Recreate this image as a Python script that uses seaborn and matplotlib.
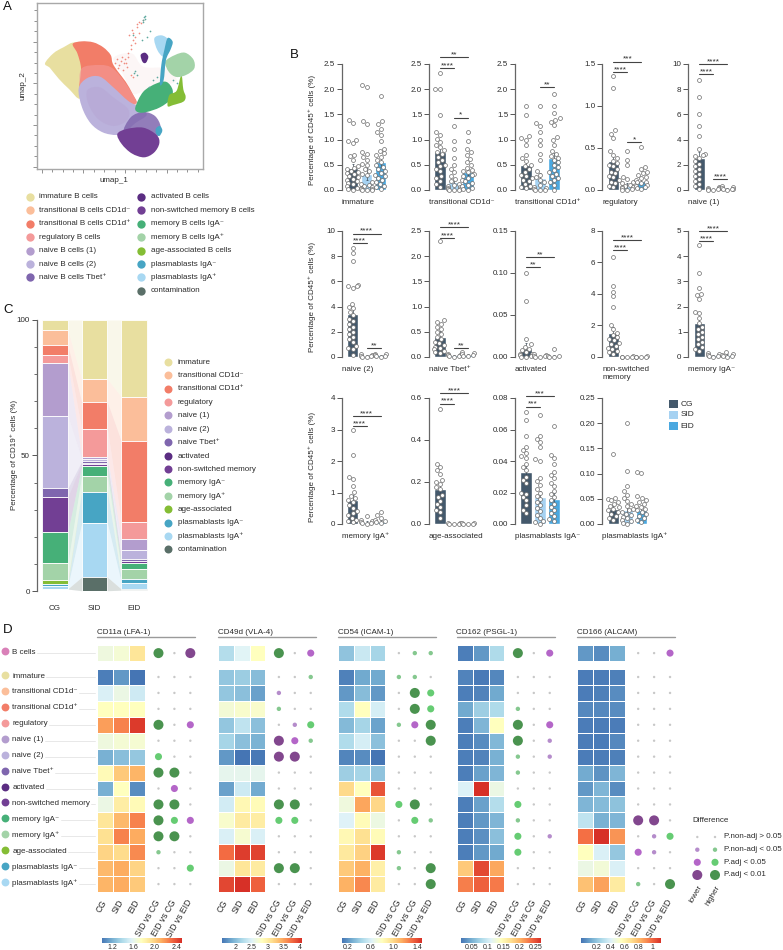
import numpy as np
import pandas as pd
import matplotlib
matplotlib.use("Agg")
import matplotlib.pyplot as plt
from matplotlib.path import Path
from matplotlib.patches import PathPatch, Rectangle
from matplotlib.colors import LinearSegmentedColormap
from matplotlib.ticker import MultipleLocator
from matplotlib.transforms import ScaledTranslation
import seaborn as sns

sns.set_theme(style="white")
plt.rcParams['font.family'] = ['Liberation Sans', 'DejaVu Sans']
plt.rcParams['text.color'] = '#2b2b2b'
plt.rcParams['axes.labelcolor'] = '#2b2b2b'
plt.rcParams['xtick.color'] = '#2b2b2b'
plt.rcParams['ytick.color'] = '#2b2b2b'

W, H = 783, 950
FS = 5.8

# ---------------- colours / names -------------------------------------------
subset_colors = ["#E8DFA0", "#FBBE9A", "#F27D68", "#F49A9A", "#B39DCE", "#BBB2DC", "#7F66AE",
                 "#5B2D82", "#723F94", "#46B078", "#A3D3A8", "#84BD35", "#47A5C4", "#A8D8F2", "#5A6F68"]
legend_a_left = ["immature B cells", "transitional B cells CD1d⁻", "transitional B cells CD1d⁺",
                 "regulatory B cells", "naive B cells (1)", "naive B cells (2)", "naive B cells Tbet⁺"]
legend_a_right = ["activated B cells", "non-switched memory B cells", "memory B cells IgA⁻",
                  "memory B cells IgA⁺", "age-associated B cells", "plasmablasts IgA⁻",
                  "plasmablasts IgA⁺", "contamination"]
subset_names = ["immature", "transitional CD1d⁻", "transitional CD1d⁺", "regulatory", "naive (1)", "naive (2)",
                "naive Tbet⁺", "activated", "non-switched memory", "memory IgA⁻", "memory IgA⁺",
                "age-associated", "plasmablasts IgA⁻", "plasmablasts IgA⁺", "contamination"]
groups = ["CG", "SID", "EID"]
group_colors = ["#44596C", "#A6D2F2", "#4AA8E0"]

# ---------------- panel A: UMAP region outlines (picture units) -------------
reg_immature = [(135,190),(160,160),(190,142),(225,128),(262,160),(268,200),(262,250),(240,296),(208,268),(176,236),(150,204)]
reg_trans_pos = [(218,132),(245,124),(280,127),(310,142),(332,165),(338,190),(354,215),(377,245),(397,280),(410,308),(385,312),(350,285),(320,255),(285,245),(250,250),(238,262),(243,205),(232,160)]
reg_regulatory = [(245,205),(300,195),(338,205),(377,250),(410,308),(385,312),(340,275),(300,250),(255,250),(240,258)]
reg_naive2 = [(236,265),(262,234),(300,230),(340,262),(385,303),(420,322),(440,345),(405,370),(378,395),(350,405),(308,397),(272,370),(246,322)]
reg_naive1 = [(262,270),(300,262),(340,292),(385,328),(380,362),(340,378),(295,358),(265,312)]
reg_tbet = [(392,352),(430,336),(465,348),(482,380),(472,408),(430,405),(372,398)]
reg_nonsw = [(352,402),(380,387),(430,383),(470,405),(478,430),(462,458),(432,472),(395,460),(365,432)]
reg_pb_neg_blob = [(468,385),(480,378),(487,392),(478,408),(468,400)]
reg_mem_neg = [(406,322),(430,275),(470,250),(500,246),(518,270),(512,298),(480,322),(440,336),(415,337)]
reg_age = [(508,285),(530,272),(544,225),(550,268),(557,290),(550,305),(520,315),(503,318)]
reg_mem_pos = [(496,185),(525,165),(555,158),(580,178),(583,205),(560,224),(530,231),(507,216)]
reg_pb_pos = [(463,115),(485,106),(505,120),(503,150),(490,170),(472,150)]
reg_pb_neg_stem = [(503,114),(518,125),(512,148),(498,180),(491,240),(480,254),(484,195),(493,150)]
reg_activated = [(422,165),(435,158),(445,170),(438,188),(428,186)]
reg_haze = [(340,175),(395,160),(430,200),(500,205),(530,240),(500,255),(430,275),(395,280),(370,225)]
spark_pink_x = [350,362,375,385,392,400,380,370,392,400,396,410,418,428,355,365,378,388,398,405,412,345,358,372,384,394,404,416,424]
spark_pink_y = [178,183,178,160,135,120,200,210,225,232,90,72,65,60,205,170,190,105,98,112,80,190,196,188,172,148,128,100,70]
spark_teal_x = [432,436,430,450,425,440,402,412,428,434,398,404,470,458,448,520,530]
spark_teal_y = [52,58,65,92,120,110,218,225,60,48,105,212,230,240,260,240,250]

# ---------------- panel B: per-subset data ----------------------------------
imm_cg = [1.38,1.32,1.0,.97,.93,.7,.67,.6,.47,.44,.42,.38,.36,.33,.31,.28,.25,.22,.2,.17,.14,.12,.08,.04,.02,.0]
imm_sid = [2.09,2.05,1.36,1.3,.75,.72,.65,.6,.52,.5,.42,.38,.32,.3,.15,.12,.1,.08,.06,.04,.02,.01,0,0,0]
imm_eid = [1.86,1.36,1.3,1.22,1.15,1.1,.98,.82,.78,.73,.7,.66,.6,.55,.5,.46,.42,.38,.34,.3,.27,.24,.2,.16,.12,.08,.05,.02]
tneg_cg = [2.33,2.01,2.0,1.49,1.15,1.1,1.02,.95,.9,.85,.8,.76,.72,.66,.6,.55,.5,.47,.42,.37,.28,.24,.18,.12,.06]
tneg_sid = [1.27,.97,.82,.63,.5,.42,.35,.28,.22,.17,.12,.1,.07,.05,.04,.02,.01,0,0,0]
tneg_eid = [1.15,.97,.82,.76,.7,.62,.55,.5,.44,.4,.38,.35,.32,.3,.27,.24,.2,.17,.14,.1,.07,.04,.02,0]
tpos_cg = [1.66,1.49,1.07,1.03,1.0,.9,.7,.63,.58,.5,.47,.42,.36,.3,.27,.24,.2,.17,.12,.08,.05,.03]
tpos_sid = [1.67,1.33,1.27,1.15,1.0,.9,.72,.6,.37,.3,.25,.2,.15,.1,.06,.04,.02,0,0,0]
tpos_eid = [1.9,1.67,1.53,1.42,1.38,1.35,1.28,1.05,.99,.9,.78,.72,.68,.64,.6,.55,.5,.45,.4,.36,.32,.28,.24,.2,.15,.1,.0]
reg_cg = [1.36,1.21,.71,.67,.62,.46,.42,.38,.35,.32,.3,.28,.25,.22,.2,.17,.15,.12,.1,.08,.05,.03]
reg_sid = [.47,.36,.3,.16,.13,.1,.08,.06,.05,.04,.03,.02,.01,0,0]
reg_eid = [.51,.27,.25,.22,.2,.18,.16,.14,.12,.1,.09,.08,.06,.05,.04,.02,.01]
n1_cg = [8.75,7.35,6.05,5.05,4.25,3.25,2.85,2.8,2.7,2.55,2.3,2.1,1.9,1.7,1.5,1.3,1.1,.9,.7,.5,.3,.1]
n1_sid = [.25,.18,.12,.08,.05,.03,.01]
n1_eid = [.3,.2,.15,.1,.08,.05,.02]
n2_cg = [8.65,8.25,7.65,5.7,5.65,5.6,5.45,4.2,3.95,3.85,3.6,3.3,3.05,2.85,2.6,2.4,2.2,2.0,1.8,1.6,1.4,1.2,.85,.75,.6,.15]
n2_sid = [.2,.15,.1,.05,.03,.01]
n2_eid = [.25,.2,.15,.1,.05,.02]
tb_cg = [2.3,.73,.7,.66,.6,.55,.5,.45,.4,.35,.3,.27,.24,.2,.18,.15,.12,.1,.08]
tb_sid = [.06,.04,.03,.02,.01,0]
tb_eid = [.09,.07,.05,.03,.02,.01]
ac_cg = [.1,.067,.022,.015,.012,.01,.008,.006,.004,.003,.002,.001,.0005,0]
ac_sid = [.003,.002,.001,.001,0,0]
ac_eid = [.009,.001,.001,0,0]
ns_cg = [6.35,4.5,4.15,3.85,3.2,2.05,1.8,1.55,1.4,1.25,1.15,1.05,.9,.8,.7,.6,.5,.4,.3,.2]
ns_sid = [.05,.03,.02,.01,0]
ns_eid = [.05,.03,.02,.01,0]
man_cg = [4.45,3.35,2.75,2.5,2.45,2.3,1.8,1.75,1.55,1.35,1.2,1.1,1.0,.9,.8,.7,.6,.5,.4,.3,.25]
man_sid = [.15,.1,.08,.05,.03,.01]
man_eid = [.18,.12,.08,.05,.03,.01]
map_cg = [2.98,2.2,1.5,1.42,1.22,1.03,.9,.82,.76,.7,.6,.5,.42,.35,.28,.2,.14,.1,.05]
map_sid = [.25,.12,.08,.05,.03,.02,.01]
map_eid = [.37,.28,.2,.12,.08,.05,.02]
age_cg = [.55,.285,.27,.255,.24,.21,.2,.19,.175,.165,.14,.13,.11,.095,.08,.065,.055,.03]
age_sid = [.006,.004,.002,.001,0]
age_eid = [.006,.004,.002,.001,0]
pbn_cg = [.071,.066,.056,.049,.047,.045,.043,.042,.038,.036,.034,.03,.028,.026,.02,.019,.017,.015,.012,.009,.007]
pbn_sid = [.069,.056,.054,.052,.049,.041,.04,.029,.027,.025,.022,.02,.018,.016,.014,.012,.01,.008,.006,.004,.002,.001,0]
pbn_eid = [.062,.044,.042,.038,.033,.031,.029,.026,.024,.021,.019,.017,.015,.013,.011,.009,.007,.005,.003,.002]
pbp_cg = [.138,.052,.05,.047,.044,.04,.036,.033,.03,.027,.024,.02,.016,.012,.008]
pbp_sid = [.2,.105,.075,.065,.058,.052,.046,.04,.035,.03,.027,.024,.02,.017,.014,.011,.008,.005,.002,0]
pbp_eid = [.104,.102,.056,.052,.048,.044,.04,.036,.033,.03,.027,.024,.02,.016,.012,.008,.004]

bar_means = {
    "immature": [.44,.32,.55], "tneg": [.75,.15,.35], "tpos": [.5,.23,.63], "reg": [.34,.05,.11], "n1": [2.55,.08,.1],
    "n2": [3.4,.1,.13], "tb": [.4,.03,.04], "ac": [.009,.001,.001], "ns": [1.55,.02,.02], "man": [1.35,.07,.08],
    "map": [.75,.05,.07], "age": [.165,.002,.002], "pbn": [.033,.017,.016], "pbp": [.03,.028,.028]}

# (key, label, points, y ticks, tick labels, brackets: (from, to, y, stars))
panels = [
 ("immature","immature",[imm_cg,imm_sid,imm_eid],[0,.5,1,1.5,2,2.5],["0.0","0.5","1.0","1.5","2.0","2.5"],[]),
 ("tneg","transitional CD1d⁻",[tneg_cg,tneg_sid,tneg_eid],[0,.5,1,1.5,2,2.5],["0.0","0.5","1.0","1.5","2.0","2.5"],[(0,2,2.63,"**"),(0,1,2.42,"****"),(1,2,1.435,"*")]),
 ("tpos","transitional CD1d⁺",[tpos_cg,tpos_sid,tpos_eid],[0,.5,1,1.5,2,2.5],["0.0","0.5","1.0","1.5","2.0","2.5"],[(1,2,2.04,"**")]),
 ("reg","regulatory",[reg_cg,reg_sid,reg_eid],[0,.5,1,1.5],["0.0","0.5","1.0","1.5"],[(0,2,1.528,"***"),(0,1,1.405,"****"),(1,2,.567,"*")]),
 ("n1","naive (1)",[n1_cg,n1_sid,n1_eid],[0,2,4,6,8,10],["0","2","4","6","8","10"],[(0,2,10.0,"****"),(0,1,9.18,"****"),(1,2,.87,"****")]),
 ("n2","naive (2)",[n2_cg,n2_sid,n2_eid],[0,2,4,6,8,10],["0","2","4","6","8","10"],[(0,2,9.8,"****"),(0,1,9.02,"****"),(1,2,.69,"**")]),
 ("tb","naive Tbet⁺",[tb_cg,tb_sid,tb_eid],[0,.5,1,1.5,2,2.5],["0.0","0.5","1.0","1.5","2.0","2.5"],[(0,2,2.57,"****"),(0,1,2.36,"****"),(1,2,.17,"**")]),
 ("ac","activated",[ac_cg,ac_sid,ac_eid],[0,.05,.1,.15],["0.00","0.05","0.10","0.15"],[(0,2,.119,"**"),(0,1,.107,"**")]),
 ("ns","non-switched\nmemory",[ns_cg,ns_sid,ns_eid],[0,2,4,6,8],["0","2","4","6","8"],[(0,2,7.41,"****"),(0,1,6.77,"****")]),
 ("man","memory IgA⁻",[man_cg,man_sid,man_eid],[0,1,2,3,4,5],["0","1","2","3","4","5"],[(0,2,5.0,"****"),(0,1,4.6,"****")]),
 ("map","memory IgA⁺",[map_cg,map_sid,map_eid],[0,1,2,3,4],["0","1","2","3","4"],[(0,2,3.43,"****"),(0,1,3.1,"****")]),
 ("age","age-associated",[age_cg,age_sid,age_eid],[0,.2,.4,.6],["0.0","0.2","0.4","0.6"],[(0,2,.622,"****"),(0,1,.573,"****")]),
 ("pbn","plasmablasts IgA⁻",[pbn_cg,pbn_sid,pbn_eid],[0,.02,.04,.06,.08],["0.00","0.02","0.04","0.06","0.08"],[(0,2,.081,"***"),(0,1,.0745,"***")]),
 ("pbp","plasmablasts IgA⁺",[pbp_cg,pbp_sid,pbp_eid],[0,.05,.1,.15,.2,.25],["0.00","0.05","0.10","0.15","0.20","0.25"],[]),
]

# ---------------- panel C: stacked composition (%) ---------------------------
comp_cg = [3.7,5.5,3.6,2.9,19.6,26.8,3.2,.1,12.8,11.6,6.3,1.5,.7,.9,0.1]
comp_sid = [21.8,8.5,9.9,10.2,.9,.9,.7,.3,.8,3.4,5.9,.0,11.7,19.9,5.0]
comp_eid = [28.3,16.4,29.9,6.1,4.3,3.1,.7,.3,.7,2.2,3.4,.1,1.4,2.4,.4]

# ---------------- panel D: heatmap values and dot levels ---------------------
row_names = ["B cells"] + subset_names[:-1]
row_colors = ["#D980B8"] + subset_colors[:-1]
heat_columns = ["CG", "SID", "EID"]
cmp_columns = ["SID vs CG", "EID vs CG", "SID vs EID"]
titles = ["CD11a (LFA-1)", "CD49d (VLA-4)", "CD54 (ICAM-1)", "CD162 (PSGL-1)", "CD166 (ALCAM)"]
heat_lfa = [[1.65,1.68,1.90],[1.03,1.12,1.00],[1.54,1.63,1.50],[1.75,1.75,1.75],[2.17,2.25,2.47],[1.65,1.68,1.69],[1.21,1.26,1.30],[1.78,2.02,2.10],[1.20,1.75,1.08],[1.63,1.86,1.78],[1.90,2.08,2.25],[1.93,2.25,2.13],[1.98,1.95,2.23],[2.08,2.13,1.98],[2.10,2.13,2.02]]
heat_vla = [[2.25,2.52,2.82],[2.07,2.12,2.00],[2.07,2.02,1.83],[2.69,2.74,2.74],[2.07,2.32,2.02],[2.17,2.02,1.93],[1.78,1.58,1.60],[2.57,2.57,2.57],[1.83,2.40,1.88],[2.42,2.89,2.86],[2.74,3.01,2.99],[2.47,2.72,2.47],[3.75,3.98,3.95],[2.62,3.06,3.01],[3.93,4.05,3.80]]
heat_icam = [[.37,.55,.44],[.15,.27,.27],[.22,.34,.22],[.47,.80,.59],[.33,.44,.25],[.47,.59,.36],[.16,.18,.11],[.41,.44,.37],[.99,.80,1.38],[.71,1.16,1.00],[.62,.82,.69],[.84,.96,.82],[.92,1.02,1.46],[1.05,1.13,.88],[1.13,1.24,.91]]
heat_psgl = [[.021,.036,.081],[.024,.019,.026],[.021,.024,.046],[.046,.071,.081],[.021,.054,.142],[.021,.029,.056],[.021,.024,.051],[.021,.041,.054],[.109,.267,.121],[.021,.041,.084],[.021,.036,.054],[.021,.031,.061],[.021,.036,.046],[.187,.254,.207],[.227,.242,.229]]
heat_alcam = [[.07,.04,.13],[0,0,.01],[0,.01,.04],[.03,.03,.04],[0,0,0],[0,0,.03],[0,0,.01],[.12,.06,.15],[.07,.15,.04],[.15,.17,.19],[.32,.14,.15],[.97,1.12,.89],[.55,.39,.21],[.46,.49,.39],[.78,.86,.64]]
diff_lfa = [[3,0,-3],[0,0,0],[0,0,0],[0,0,0],[3,0,-2],[0,0,0],[2,0,0],[3,3,0],[0,-2,0],[3,3,0],[3,2,-2],[3,3,0],[1,0,0],[0,0,2],[0,0,0]]
diff_vla = [[3,0,-2],[0,0,1],[-1,0,0],[1,0,0],[0,-1,2],[-3,-2,1],[-3,-3,0],[0,0,0],[0,0,0],[3,3,0],[2,2,0],[0,0,0],[0,0,0],[3,3,0],[0,0,0]]
diff_icam = [[0,1,1],[1,1,0],[0,3,2],[0,3,2],[1,-2,3],[0,0,3],[0,0,0],[0,0,0],[0,0,0],[2,3,0],[0,2,1],[0,0,0],[1,0,0],[1,0,3],[0,0,3]]
diff_psgl = [[3,0,-2],[0,0,0],[0,0,0],[1,0,0],[3,0,-2],[3,0,-1],[1,0,-1],[1,0,0],[0,0,0],[2,0,0],[1,0,0],[2,0,-1],[2,0,0],[0,0,0],[0,0,0]]
diff_alcam = [[0,0,-2],[0,0,0],[0,0,0],[0,0,0],[0,0,0],[0,0,0],[0,0,0],[0,0,0],[0,0,0],[0,0,0],[-3,-3,0],[0,-1,2],[-2,-1,0],[0,0,0],[1,0,3]]
heat_limits = [(1.0,2.5),(1.58,4.05),(.107,1.487),(.016,.267),(-.02,1.12)]
cbar_ticks = [[1.2,1.6,2.0,2.4],[2,2.5,3,3.5,4],[.2,.6,1.0,1.4],[.05,.1,.15,.2,.25],[.2,.4,.6,.8,1.0]]
cbar_labels = [["1.2","1.6","2.0","2.4"],["2","2.5","3","3.5","4"],["0.2","0.6","1.0","1.4"],["0.05","0.1","0.15","0.2","0.25"],["0.2","0.4","0.6","0.8","1"]]
level_colors = {0:"#C8C8C8", 1:"#85C88F", 2:"#66CC73", 3:"#4A934F", -1:"#B58CCB", -2:"#B466C8", -3:"#82478E"}
level_sizes = {0:3, 1:10, 2:26, 3:52, -1:10, -2:26, -3:52}
legend_levels = ["P.non-adj > 0.05", "P.non-adj < 0.05", "P.adj < 0.05", "P.adj < 0.01"]

heat_cmap = LinearSegmentedColormap.from_list("rdylbu9", ["#4575B4","#74ADD1","#ABD9E9","#E0F3F8","#FFFFBF","#FEE090","#FDAE61","#F46D43","#D73027"])

# ---------------- figure helpers ---------------------------------------------
fig = plt.figure(figsize=(W/100, H/100), dpi=100, facecolor="white")

def pxax(l, t, r, b, **kw):
    return fig.add_axes([l/W, 1-b/H, (r-l)/W, (b-t)/H], **kw)

over = pxax(0, 0, W, H, zorder=20)
over.set_xlim(0, W); over.set_ylim(H, 0); over.axis("off"); over.patch.set_alpha(0)

def smooth(pts):
    p = np.array(pts, float)
    n = len(p)
    verts = [p[0]]; codes = [Path.MOVETO]
    for i in range(n):
        p0, p1, p2, p3 = p[i-1], p[i], p[(i+1) % n], p[(i+2) % n]
        verts += [p1 + (p2 - p0) / 6, p2 - (p3 - p1) / 6, p2]
        codes += [Path.CURVE4] * 3
    return Path(verts, codes)

# ---------------- A ----------------------------------------------------------
axa = pxax(36.7, 2.7, 203.3, 169)
axa.set_xlim(110, 610); axa.set_ylim(507, 8)
for pts, c, al in [(reg_haze,"#FBF3F3",.7),(reg_immature,subset_colors[0],1),(reg_trans_pos,subset_colors[2],1),
                   (reg_regulatory,subset_colors[3],.6),(reg_naive2,subset_colors[5],1),(reg_naive1,subset_colors[4],.3),
                   (reg_tbet,subset_colors[6],.85),(reg_nonsw,subset_colors[8],1),(reg_pb_neg_blob,subset_colors[12],1),
                   (reg_mem_neg,subset_colors[9],1),(reg_age,subset_colors[11],1),(reg_mem_pos,subset_colors[10],1),
                   (reg_pb_pos,subset_colors[13],1),(reg_pb_neg_stem,subset_colors[12],1),(reg_activated,subset_colors[7],1)]:
    axa.add_patch(PathPatch(smooth(pts), facecolor=c, edgecolor="none", alpha=al))
axa.scatter(spark_pink_x, spark_pink_y, s=1.5, color="#F08C80", linewidths=0)
axa.scatter(spark_teal_x, spark_teal_y, s=1.5, color="#5FA9A0", linewidths=0)
axa.xaxis.set_major_locator(MultipleLocator(125)); axa.xaxis.set_minor_locator(MultipleLocator(31.25))
axa.yaxis.set_major_locator(MultipleLocator(125)); axa.yaxis.set_minor_locator(MultipleLocator(31.25))
axa.tick_params(which="both", bottom=True, left=True, labelbottom=False, labelleft=False, color="#666", width=.5, length=2.2, direction="out")
axa.tick_params(which="major", length=3)
for s in axa.spines.values():
    s.set_color("#A8A8A8"); s.set_linewidth(1.0)
over.text(114, 181, "umap_1", fontsize=FS, ha="center", va="center")
over.text(23, 86, "umap_2", fontsize=FS, ha="center", va="center", rotation=90)

a_y0, a_dy = 197, 13.4
for i, (n, c) in enumerate(zip(legend_a_left, subset_colors[:7])):
    over.scatter([30], [a_y0 + i*a_dy], s=36, color=c, linewidths=0)
    over.text(39, a_y0 + i*a_dy, n, fontsize=FS, va="center")
for i, (n, c) in enumerate(zip(legend_a_right, subset_colors[7:])):
    over.scatter([141], [a_y0 + i*a_dy], s=36, color=c, linewidths=0)
    over.text(151, a_y0 + i*a_dy, n, fontsize=FS, va="center")

# ---------------- B ----------------------------------------------------------
col_x = [341.7, 429, 515, 602.3, 688.3]
row_y = [(64, 190), (231, 357), (398, 524)]
label_y = [203, 370.7, 537]
ylabel_shift = [3, 3, 5.5]
for k, (key, label, pts, ticks, tlabels, brackets) in enumerate(panels):
    r, c = k // 5, k % 5
    left = col_x[c]
    top, bot = row_y[r]
    ax = pxax(left, top, left + 50, bot)
    ax.patch.set_alpha(0)
    long_df = pd.DataFrame({"group": [g for g, v in zip(groups, pts) for _ in v],
                            "value": [x for v in pts for x in v]})
    mean_df = pd.DataFrame({"group": groups, "mean": bar_means[key]})
    sns.barplot(data=mean_df, x="group", y="mean", hue="group", order=groups, hue_order=groups, palette=group_colors,
                width=.8, saturation=1, errorbar=None, legend=False, ax=ax, zorder=1)
    sems = [np.std(v) / np.sqrt(len(v)) for v in pts]
    ax.errorbar(range(3), bar_means[key], yerr=sems, fmt="none", ecolor="#3a4a58", elinewidth=.5, capsize=1, capthick=.5, zorder=1.5)
    sns.swarmplot(data=long_df, x="group", y="value", order=groups, size=2.8, color="white", edgecolor="#6a6a6a",
                  linewidth=.5, ax=ax, warn_thresh=1, clip_on=False, zorder=3)
    ax.set_xlim(-.786, 2.786)
    ax.set_ylim(0, ticks[-1])
    ax.set_yticks(ticks); ax.set_yticklabels(tlabels, fontsize=FS)
    ax.set_xticks([]); ax.set_xlabel(""); ax.set_ylabel("")
    ax.tick_params(axis="y", left=True, length=3.4, width=.7, color="#555", pad=1.5)
    for s in ["top", "right", "bottom"]:
        ax.spines[s].set_visible(False)
    ax.spines["left"].set_color("#666"); ax.spines["left"].set_linewidth(.9)
    for x0, x1, yv, stars in brackets:
        ax.plot([x0, x1], [yv, yv], color="#444", lw=.8, clip_on=False, zorder=4)
        ax.annotate(stars, ((x0 + x1) / 2, yv), xytext=(0, -.7), textcoords="offset points", ha="center", va="bottom",
                    fontsize=6, annotation_clip=False)
    over.text(left, label_y[r] - 4.5, label, fontsize=FS, va="top", ha="left", linespacing=1.2)
    if c == 0:
        over.text(312, (top + bot) / 2 + ylabel_shift[r], "Percentage of CD45⁺ cells (%)", fontsize=FS, rotation=90, ha="center", va="center")

for i, (g, col) in enumerate(zip(groups, group_colors)):
    over.add_patch(Rectangle((669.3, 399.5 + 11*i), 8.7, 8.7, facecolor=col, edgecolor="none"))
    over.text(680.7, 404 + 11*i, g, fontsize=6, va="center")

# ---------------- C ----------------------------------------------------------
axc = pxax(36.7, 320, 150, 591)
axc.patch.set_alpha(0)
xpos = np.arange(3)
bar_w = .65
stack = np.array([comp_cg, comp_sid, comp_eid])
tops = 100 - np.cumsum(stack, axis=1)
prev_top = np.full(3, 100.0)
for j, col in enumerate(subset_colors):
    bottoms = tops[:, j]
    axc.bar(xpos, stack[:, j], bottom=bottoms, width=bar_w, color=col, edgecolor="white", linewidth=.6, zorder=2)
    for i in range(2):
        xs = [i + bar_w/2, i + 1 - bar_w/2]
        axc.fill_between(xs, [bottoms[i], bottoms[i+1]], [prev_top[i], prev_top[i+1]], color=col, alpha=.22, linewidth=0, zorder=1)
    prev_top = bottoms
axc.set_xlim(-.46, 2.4); axc.set_ylim(0, 100)
axc.set_yticks([0, 50, 100]); axc.set_yticklabels(["0", "50", "100"], fontsize=FS)
axc.yaxis.set_minor_locator(MultipleLocator(10))
axc.tick_params(axis="y", which="major", left=True, length=3.5, width=.7, color="#555", pad=1.5)
axc.tick_params(axis="y", which="minor", left=True, length=2.2, width=.6, color="#555")
axc.set_xticks(xpos); axc.set_xticklabels(groups, fontsize=FS)
axc.tick_params(axis="x", bottom=False, pad=4)
for s in ["top", "right", "bottom"]:
    axc.spines[s].set_visible(False)
axc.spines["left"].set_color("#666"); axc.spines["left"].set_linewidth(.9)
over.text(14.3, 455, "Percentage of CD19⁺ cells (%)", fontsize=FS, rotation=90, ha="center", va="center")
c_y0, c_dy = 361.7, 13.4
for i, (n, c) in enumerate(zip(subset_names, subset_colors)):
    over.scatter([168], [c_y0 + i*c_dy], s=33, color=c, linewidths=0)
    over.text(178, c_y0 + i*c_dy + .5, n, fontsize=FS, va="center")

# ---------------- D ----------------------------------------------------------
group_left = [97.3, 217.7, 337.7, 456.7, 577]
cell = 15.93
bcell_top, bcell_bot = 645.3, 661
main_top, main_bot = 669, 892
tick_names = heat_columns + cmp_columns
heat_all = [heat_lfa, heat_vla, heat_icam, heat_psgl, heat_alcam]
diff_all = [diff_lfa, diff_vla, diff_icam, diff_psgl, diff_alcam]
for g, left in enumerate(group_left):
    vmin, vmax = heat_limits[g]
    data = pd.DataFrame(heat_all[g], index=row_names, columns=heat_columns)
    axb = pxax(left, bcell_top, left + 3*cell, bcell_bot)
    sns.heatmap(data.iloc[[0]], ax=axb, cmap=heat_cmap, vmin=vmin, vmax=vmax, cbar=False, xticklabels=False, yticklabels=False, linewidths=.5, linecolor="white")
    axb.set_xlabel(""); axb.set_ylabel("")
    axm = pxax(left, main_top, left + 3*cell, main_bot)
    cax = pxax(left + 4.2, 937.7, left + 84.2, 943)
    sns.heatmap(data.iloc[1:], ax=axm, cmap=heat_cmap, vmin=vmin, vmax=vmax, xticklabels=False, yticklabels=False, linewidths=.5, linecolor="white",
                cbar_ax=cax, cbar_kws={"orientation": "horizontal", "ticks": cbar_ticks[g]})
    axm.set_xlabel(""); axm.set_ylabel("")
    cax.set_xticklabels(cbar_labels[g], fontsize=5)
    cax.tick_params(axis="x", length=0, pad=.6)
    cbar = axm.collections[0].colorbar
    cbar.outline.set_visible(False)

    dots = pd.DataFrame(diff_all[g], index=row_names, columns=cmp_columns).reset_index(names="subset").melt(id_vars="subset", var_name="cmp", value_name="level")
    dots["x"] = dots["cmp"].map({c: 3.84 + i for i, c in enumerate(cmp_columns)})
    dots["y"] = dots["subset"].map({n: (-1.5 if i == 0 else i - 1) for i, n in enumerate(row_names)})
    axd = pxax(left, bcell_top, left + 98, main_bot)
    axd.patch.set_alpha(0)
    sns.scatterplot(data=dots, x="x", y="y", hue="level", size="level", palette=level_colors, sizes=level_sizes,
                    linewidth=0, legend=False, ax=axd, clip_on=False)
    axd.set_xlim(0, 98/cell)
    axd.set_ylim((main_bot - 677) / cell, (bcell_top - 677) / cell)
    axd.set_xticks([.5, 1.5, 2.5, 3.84, 4.84, 5.84])
    axd.set_xticklabels(tick_names, fontsize=6.2, rotation=60, ha="right", va="center", rotation_mode="anchor")
    off = ScaledTranslation(4.5/100, -3/100, fig.dpi_scale_trans)
    for t in axd.get_xticklabels():
        t.set_transform(t.get_transform() + off)
    axd.tick_params(axis="x", bottom=False, pad=0)
    axd.set_yticks([]); axd.set_xlabel(""); axd.set_ylabel("")
    for s in axd.spines.values():
        s.set_visible(False)
    over.plot([left, left + 98], [637, 637], color="#9a9a9a", lw=1.0)
    over.text(left - .2, 632.7, titles[g], fontsize=FS, va="center", ha="left")

row_centers = [653] + [677 + i*cell for i in range(14)]
renderer = fig.canvas.get_renderer()
for i, (n, c, yc) in enumerate(zip(row_names, row_colors, row_centers)):
    over.scatter([5], [yc - 2], s=32, color=c, linewidths=0)
    t = over.text(12.3, yc - 1, n, fontsize=FS, va="center")
    x_end = t.get_window_extent(renderer).x1
    over.plot([x_end + 1, 95], [yc, yc], color="#E4E4E4", lw=.6)

over.text(692.7, 821, "Difference", fontsize=FS, va="center")
leg_df = pd.DataFrame({"x": [697.3]*4 + [715]*4, "y": [837, 849.7, 862.3, 875]*2, "level": [0, -1, -2, -3, 0, 1, 2, 3]})
sns.scatterplot(data=leg_df, x="x", y="y", hue="level", size="level", palette=level_colors, sizes=level_sizes, linewidth=0, legend=False, ax=over)
over.set_xlim(0, W); over.set_ylim(H, 0); over.set_xlabel(""); over.set_ylabel("")
for yv, t in zip([837, 849.7, 862.3, 875], legend_levels):
    over.text(724.3, yv, t, fontsize=FS, va="center")
over.text(701, 886, "lower", fontsize=FS, rotation=60, ha="right", va="center", rotation_mode="anchor")
over.text(719, 886, "higher", fontsize=FS, rotation=60, ha="right", va="center", rotation_mode="anchor")

for letter, x, y in [("A", 3, 6.5), ("B", 290, 55), ("C", 3, 310), ("D", 3, 630)]:
    over.text(x, y, letter, fontsize=9.5, va="center", ha="left", color="#111")

fig.savefig("out.png", dpi=100)
